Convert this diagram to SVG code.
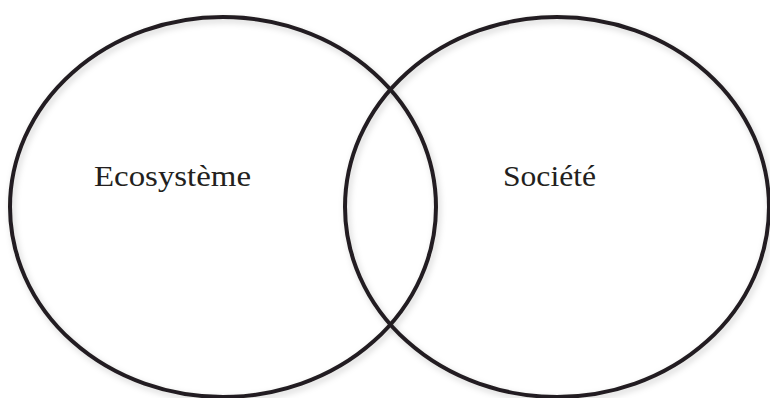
<svg xmlns="http://www.w3.org/2000/svg" width="770" height="398" viewBox="0 0 770 398">
<defs>
<filter id="sh" x="-10%" y="-10%" width="120%" height="120%">
<feDropShadow dx="2" dy="3" stdDeviation="3" flood-color="#000" flood-opacity="0.18"/>
</filter>
<style>
.c{fill:none;stroke:#231f20;stroke-width:4;filter:url(#sh)}
.t{font-family:"Liberation Serif",serif;font-size:30px;fill:#231f20}
</style>
</defs>
<rect width="770" height="398" fill="#fff"/>
<g id="ecosysteme">
<ellipse class="c" cx="223" cy="207" rx="213" ry="190"/>
<text class="t" x="94" y="186" textLength="157" lengthAdjust="spacingAndGlyphs">Ecosystème</text>
</g>
<g id="societe">
<ellipse class="c" cx="557" cy="207" rx="212" ry="190"/>
<text class="t" x="503" y="186" textLength="93" lengthAdjust="spacingAndGlyphs">Société</text>
</g>
<g id="connectors"/>
</svg>
